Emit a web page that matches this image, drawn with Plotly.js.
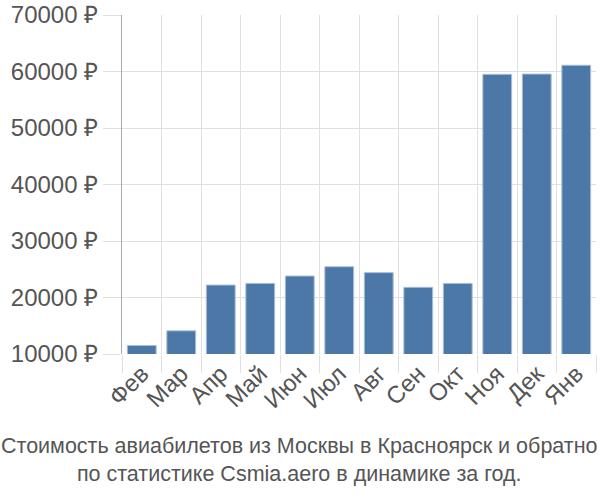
<!DOCTYPE html>
<html>
<head>
<meta charset="utf-8">
<script src="https://cdn.plot.ly/plotly-3.0.1.min.js"></script>
<style>html,body{margin:0;padding:0;background:#fff}</style>
</head>
<body>
<div id="chart" style="width:600px;height:500px"></div>
<script>
const months = ["Фев","Мар","Апр","Май","Июн","Июл","Авг","Сен","Окт","Ноя","Дек","Янв"];
const prices = [11500, 14100, 22200, 22500, 23800, 25450, 24400, 21800, 22500, 59500, 59550, 61100];
const yTicks = [10000, 20000, 30000, 40000, 50000, 60000, 70000];
const yTickLabels = yTicks.map(v => v + " ₽");
const titleLines = ["Стоимость авиабилетов из Москвы в Красноярск и обратно", "по статистике Csmia.aero в динамике за год."];

const trace = {
  type: "bar",
  x: months,
  y: prices,
  marker: {color: "#4c78a8", line: {color: "#a9bfd9", width: 1}},
  hoverinfo: "x+y"
};

const layout = {
  width: 600, height: 500,
  margin: {l: 122, r: 4, t: 15, b: 146},
  paper_bgcolor: "#fff", plot_bgcolor: "#fff",
  font: {family: "Liberation Sans, Arial, sans-serif", color: "#555", size: 20},
  bargap: 0.27,
  showlegend: false,
  xaxis: {
    type: "category",
    tickson: "boundaries",
    showgrid: true, gridcolor: "#e0e0e0", gridwidth: 1,
    ticks: "outside", ticklen: 18, tickcolor: "#e0e0e0", tickwidth: 1,
    tickangle: -45,
    tickfont: {size: 24, color: "#555"},
    showline: false, zeroline: false
  },
  yaxis: {
    range: [10000, 70000],
    tickvals: yTicks, ticktext: yTickLabels,
    showgrid: true, gridcolor: "#e0e0e0", gridwidth: 1,
    ticks: "outside", ticklen: 18, tickcolor: "#e0e0e0", tickwidth: 1,
    tickfont: {size: 24, color: "#555"},
    showline: true, linecolor: "#aaaaaa", linewidth: 1,
    zeroline: false
  },
  annotations: [{
    xref: "paper", yref: "paper", x: 0.3755, y: -0.313,
    xanchor: "center", yanchor: "middle",
    text: titleLines.join("<br>"),
    showarrow: false,
    font: {size: 21.5, color: "#555", family: "Liberation Sans, Arial, sans-serif"}
  }]
};

Plotly.newPlot("chart", [trace], layout, {displayModeBar: false, staticPlot: true});
</script>
</body>
</html>
